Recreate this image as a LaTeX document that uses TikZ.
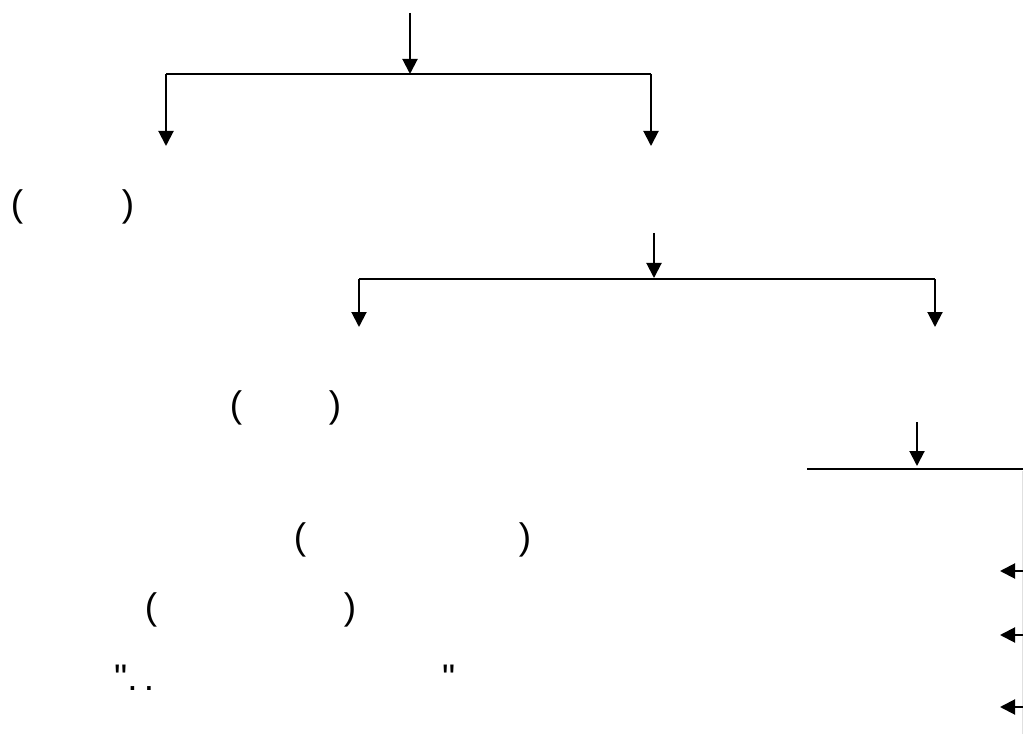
\documentclass[tikz,border=0pt]{standalone}
\usepackage{fontspec}
\setmainfont{Liberation Sans}
\newfontfamily\plainfont{Liberation Sans}
\usetikzlibrary{arrows.meta}
\begin{document}
\begin{tikzpicture}[x=1pt,y=-1pt,
  conn/.style={line width=2pt},
  arr/.style={line width=2pt,-{Triangle[width=15pt,length=15pt]}},
  faint/.style={line width=0.8pt,draw=black!12},
  txt/.style={font=\plainfont\fontsize{37}{40}\selectfont,inner sep=0pt,anchor=base}]
\useasboundingbox (0,0) rectangle (1023,738);
% tier 1
\coordinate (a0) at (410,13);
\coordinate (a1) at (410,74);
\coordinate (aL) at (166,74);
\coordinate (aR) at (651,74);
\coordinate (aLd) at (166,146);
\coordinate (aRd) at (651,146);
\draw[arr] (a0) -- (a1);
\draw[conn] (aL) -- (aR);
\draw[arr] (aL) -- (aLd);
\draw[arr] (aR) -- (aRd);
% tier 2
\coordinate (b0) at (654,233);
\coordinate (b1) at (654,278);
\coordinate (bL) at (359,279);
\coordinate (bR) at (935,279);
\coordinate (bLd) at (359,327);
\coordinate (bRd) at (935,327);
\draw[arr] (b0) -- (b1);
\draw[conn] (bL) -- (bR);
\draw[arr] (bL) -- (bLd);
\draw[arr] (bR) -- (bRd);
% tier 3
\coordinate (c0) at (917,422);
\coordinate (c1) at (917,466);
\coordinate (cL) at (807,469);
\coordinate (cR) at (1023,469);
\draw[arr] (c0) -- (c1);
\draw[conn] (cL) -- (cR);
\coordinate (v0) at (1022,471);
\coordinate (v1) at (1022,734);
\draw[faint] (v0) -- (v1);
\coordinate (d1s) at (1023,571);
\coordinate (d1) at (1000,571);
\coordinate (d2s) at (1023,635);
\coordinate (d2) at (1000,635);
\coordinate (d3s) at (1023,707);
\coordinate (d3) at (1000,707);
\draw[arr] (d1s) -- (d1);
\draw[arr] (d2s) -- (d2);
\draw[arr] (d3s) -- (d3);
% texts
\node[txt] (t1l) at (17,217) {(};
\node[txt] (t1r) at (128,217) {)};
\node[txt] (t2l) at (236,417) {(};
\node[txt] (t2r) at (335,417) {)};
\node[txt] (t3l) at (300,549) {(};
\node[txt] (t3r) at (525,549) {)};
\node[txt] (t4l) at (151,619) {(};
\node[txt] (t4r) at (350,619) {)};
\node[txt,anchor=base west] (t5l) at (114,690) {".\,.};
\node[txt,anchor=base west] (t5r) at (442,690) {"};
\end{tikzpicture}
\end{document}
